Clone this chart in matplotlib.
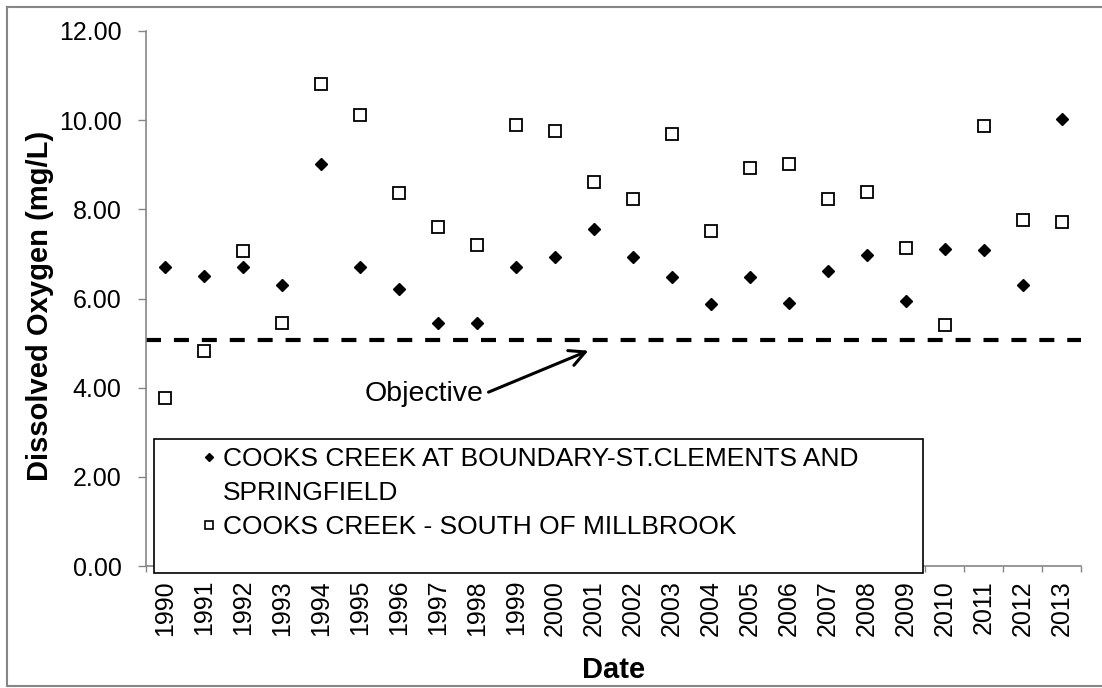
import numpy as np
import matplotlib
matplotlib.use("Agg")
import matplotlib.pyplot as plt
from matplotlib.lines import Line2D
from matplotlib.patches import Rectangle

plt.rcParams["font.family"] = ["Liberation Sans", "DejaVu Sans"]

# data
years = [str(y) for y in range(1990, 2014)]
boundary_do = [6.70, 6.51, 6.70, 6.30, 9.02, 6.70, 6.21, 5.44, 5.44, 6.71, 6.94, 7.56,
               6.92, 6.48, 5.88, 6.48, 5.91, 6.62, 6.98, 5.95, 7.11, 7.09, 6.30, 10.02]
millbrook_do = [3.77, 4.82, 7.07, 5.44, 10.82, 10.12, 8.36, 7.60, 7.20, 9.90, 9.76, 8.62,
                8.24, 9.69, 7.52, 8.92, 9.02, 8.24, 8.39, 7.14, 5.40, 9.88, 7.75, 7.71]
objective = 5.07
label_1 = "COOKS CREEK AT BOUNDARY-ST.CLEMENTS AND"
label_1b = "SPRINGFIELD"
label_2 = "COOKS CREEK - SOUTH OF MILLBROOK"

W, H = 1102, 688
fig = plt.figure(figsize=(W / 100, H / 100), dpi=100)
ax = fig.add_axes([145.7 / W, 1 - 566 / H, (1081 - 145.7) / W, 535 / H])

x = np.arange(len(years))
grey = "#868686"

ax.plot(x, boundary_do, linestyle="none", marker="D", markersize=6.2,
        color="black", zorder=3)
ax.plot(x, millbrook_do, linestyle="none", marker="s", markersize=8,
        markerfacecolor="white", markeredgecolor="black", markeredgewidth=1.3, zorder=3)

ax.axhline(objective, color="black", linewidth=3, dashes=(3.6, 3.1), zorder=2)

ax.annotate("Objective", xy=(10.86, 4.83), xytext=(8.16, 3.85),
            ha="right", va="center", fontsize=20.5,
            arrowprops=dict(arrowstyle="->,head_length=0.55,head_width=0.28",
                            color="black", lw=2.2, relpos=(1, 0.5), shrinkA=2, shrinkB=0))

ax.set_xlim(-0.5, len(years) - 0.5)
ax.set_ylim(0, 12)
ax.set_yticks(np.arange(0, 12.01, 2))
ax.set_yticklabels([f"{v:.2f}" for v in np.arange(0, 12.01, 2)])

ax.set_xticks(np.arange(-0.5, len(years), 1))
ax.set_xticklabels([])
ax.set_xticks(x, minor=True)
ax.set_xticklabels(years, minor=True, rotation=90)
ax.tick_params(axis="x", which="major", length=4.5, width=1, color=grey, direction="out")
ax.tick_params(axis="x", which="minor", length=0, pad=10, labelsize=18)
ax.tick_params(axis="y", length=5.5, width=1, color=grey, direction="out", pad=12, labelsize=18)

for s in ["top", "right"]:
    ax.spines[s].set_visible(False)
for s in ["left", "bottom"]:
    ax.spines[s].set_color(grey)
    ax.spines[s].set_linewidth(1.2)

ax.set_ylabel("Dissolved Oxygen (mg/L)", fontsize=21, fontweight="bold")
ax.yaxis.set_label_coords(-0.0985, 0.486)
ax.set_xlabel("Date", fontsize=21, fontweight="bold")
ax.xaxis.set_label_coords(0.5, -0.168)

# legend box
ax.add_patch(Rectangle((0.0089, -0.013), 0.822, 0.250, transform=ax.transAxes,
                       fill=True, facecolor="white", edgecolor="black",
                       linewidth=1.2, clip_on=False, zorder=4))
handles = [
    Line2D([], [], linestyle="none", marker="D", markersize=4.5, color="black"),
    Line2D([], [], linestyle="none"),
    Line2D([], [], linestyle="none", marker="s", markersize=6,
           markerfacecolor="white", markeredgecolor="black", markeredgewidth=1.2),
]
leg = ax.legend(handles, [label_1, label_1b, label_2], loc="upper left",
                bbox_to_anchor=(0.0611, 0.222), frameon=False, fontsize=19,
                handlelength=0.5, handletextpad=0.25, borderpad=0, borderaxespad=0,
                labelspacing=0.37)
leg.set_zorder(5)

# outer chart border
fig.add_artist(Line2D([7 / W, 7 / W], [1 - 7 / H, 1 - 686 / H], color=grey, lw=1.5))
fig.add_artist(Line2D([7 / W, 1.0], [1 - 7 / H, 1 - 7 / H], color=grey, lw=1.5))
fig.add_artist(Line2D([7 / W, 1.0], [1 - 686 / H, 1 - 686 / H], color=grey, lw=1.5))

fig.savefig("out.png", dpi=100)
